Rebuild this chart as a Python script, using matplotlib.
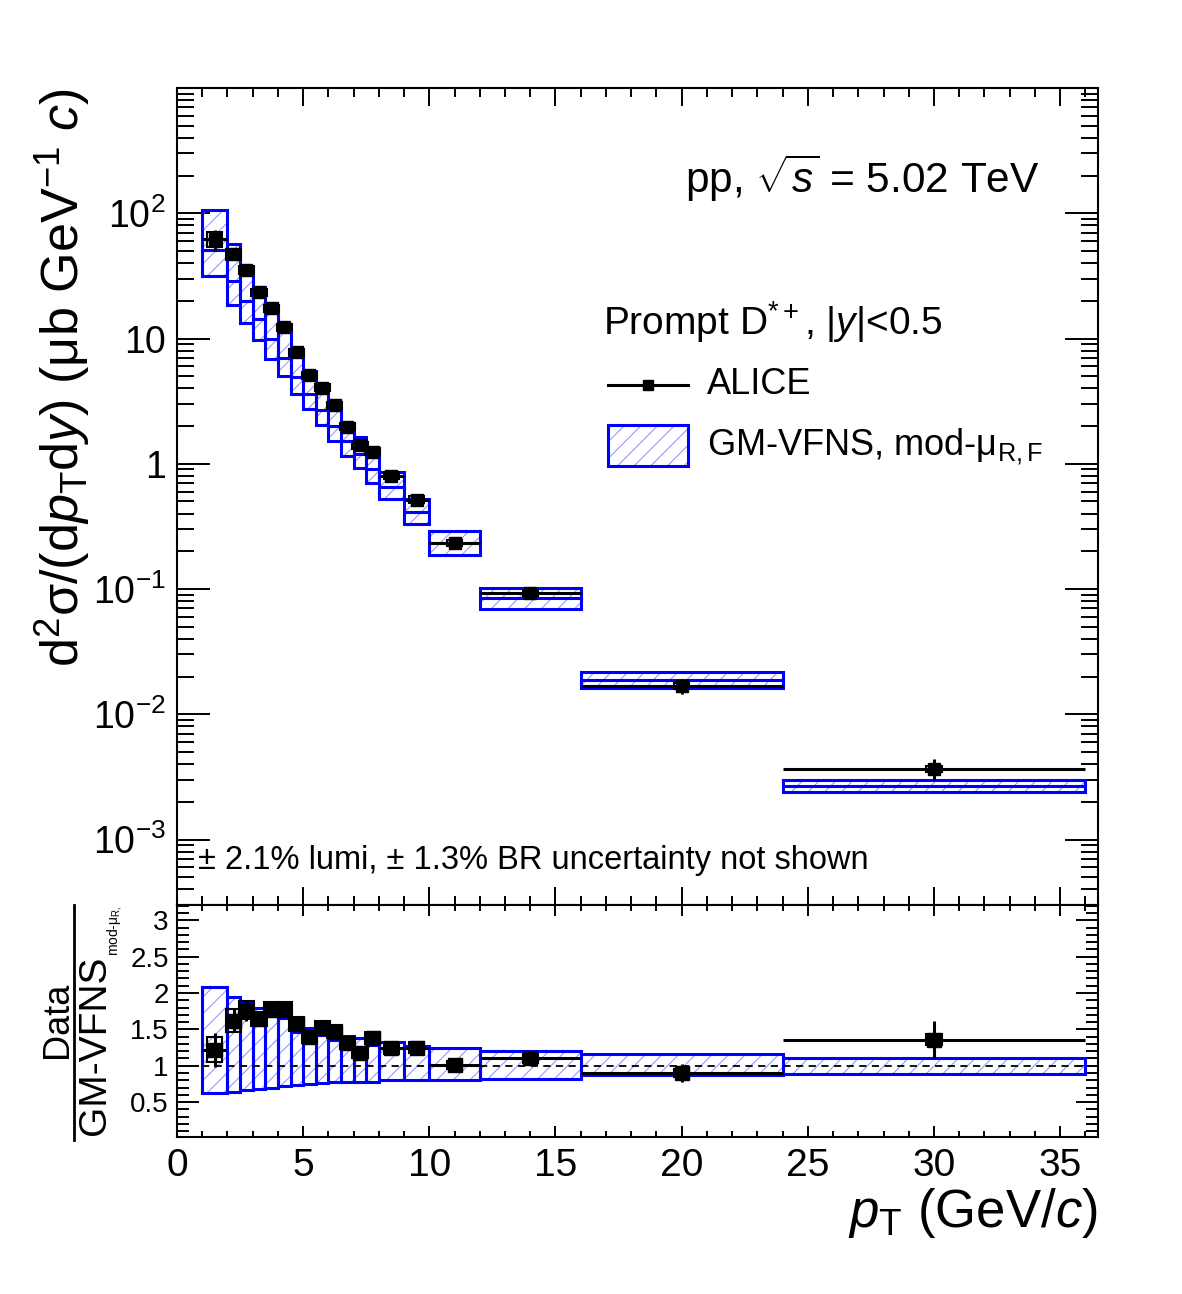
import numpy as np
import matplotlib
matplotlib.use('Agg')
import matplotlib.pyplot as plt
from matplotlib.patches import Rectangle
from matplotlib.lines import Line2D
from matplotlib.ticker import FixedLocator, FixedFormatter, LogLocator, MultipleLocator, NullFormatter, FormatStrFormatter

plt.rcParams['font.family'] = ['Liberation Sans', 'DejaVu Sans']
plt.rcParams['mathtext.fontset'] = 'custom'
plt.rcParams['mathtext.rm'] = 'Liberation Sans'
plt.rcParams['mathtext.it'] = 'Liberation Sans:italic'
plt.rcParams['mathtext.bf'] = 'Liberation Sans:bold'
plt.rcParams['hatch.linewidth'] = 0.8

# ---------------------------------------------------------------
# data
# ---------------------------------------------------------------
bin_lo = [1, 2, 2.5, 3, 3.5, 4, 4.5, 5, 5.5, 6, 6.5, 7, 7.5, 8, 9, 10, 12, 16, 24]
bin_hi = [2, 2.5, 3, 3.5, 4, 4.5, 5, 5.5, 6, 6.5, 7, 7.5, 8, 9, 10, 12, 16, 24, 36]

# ALICE prompt D*+ cross section (ub GeV^-1 c)
sigma = [62, 47, 35.2, 23.4, 17.4, 12.3, 7.74, 5.07, 4.06, 2.92, 1.98, 1.40, 1.25,
         0.805, 0.518, 0.234, 0.093, 0.0169, 0.00366]
stat_rel = [0.19, 0.10, 0.08, 0.05, 0.05, 0.05, 0.05, 0.05, 0.05, 0.05, 0.05, 0.05, 0.05,
            0.04, 0.04, 0.04, 0.05, 0.14, 0.19]
syst_rel = [0.14, 0.10, 0.07, 0.06, 0.06, 0.06, 0.06, 0.06, 0.06, 0.06, 0.06, 0.06, 0.06,
            0.06, 0.06, 0.06, 0.06, 0.06, 0.06]

# Data / GM-VFNS (central) and GM-VFNS band edges relative to its central value
ratio = [1.22, 1.62, 1.76, 1.64, 1.77, 1.77, 1.57, 1.40, 1.52, 1.47, 1.31, 1.18, 1.38,
         1.24, 1.25, 1.01, 1.10, 0.90, 1.36]
theo_lo = [0.62, 0.635, 0.667, 0.68, 0.70, 0.72, 0.735, 0.75, 0.76, 0.77, 0.77, 0.78, 0.78,
           0.80, 0.80, 0.81, 0.82, 0.87, 0.89]
theo_hi = [2.085, 1.947, 1.86, 1.79, 1.72, 1.65, 1.47, 1.52, 1.42, 1.36, 1.41, 1.38, 1.28,
           1.32, 1.27, 1.25, 1.20, 1.16, 1.11]

lo = np.array(bin_lo)
hi = np.array(bin_hi)
pt = (lo + hi) / 2
hw = (hi - lo) / 2
y = np.array(sigma)
r = np.array(ratio)
tlo = np.array(theo_lo)
thi = np.array(theo_hi)
central = y / r

W, H = 1182, 1294
def fx(x):
    return x / W
def fy(yy):
    return 1 - yy / H

BLUE = '#0000ff'
HATCH = '#9a9aff'

fig = plt.figure(figsize=(W / 100, H / 100), dpi=100)
ax = fig.add_axes([fx(177), fy(905), (1098 - 177) / W, (905 - 88) / H])
axr = fig.add_axes([fx(177), fy(1137), (1098 - 177) / W, (1137 - 905) / H])


def draw_band(a, x0, x1, ylo, yhi, ymid=None):
    a.add_patch(Rectangle((x0, ylo), x1 - x0, yhi - ylo, fill=False, hatch='//',
                          edgecolor=HATCH, lw=0, zorder=2))
    a.add_patch(Rectangle((x0, ylo), x1 - x0, yhi - ylo, fill=False,
                          edgecolor=BLUE, lw=2.2, zorder=3))
    if ymid is not None:
        a.plot([x0, x1], [ymid, ymid], color=BLUE, lw=2.2, zorder=3)


def draw_data(a, xs, ys, ms):
    for i in range(len(xs)):
        a.add_patch(Rectangle((xs[i] - 0.3, ys[i] * (1 - syst_rel[i])), 0.6,
                              2 * ys[i] * syst_rel[i], fill=False, edgecolor='k',
                              lw=1.5, zorder=4))
    a.errorbar(xs, ys, xerr=hw, yerr=ys * np.array(stat_rel), fmt='s', color='k',
               ms=ms, elinewidth=2.2, capsize=0, zorder=5)


# ---------------------------------------------------------------
# top panel: cross section
# ---------------------------------------------------------------
for i in range(len(pt)):
    draw_band(ax, lo[i], hi[i], central[i] * tlo[i], central[i] * thi[i], central[i])
draw_data(ax, pt, y, 9)

ax.set_yscale('log')
ax.set_xlim(0, 36.5)
ax.set_ylim(3.0e-4, 1.0e3)
ax.yaxis.set_major_locator(FixedLocator([1e-3, 1e-2, 1e-1, 1, 10, 100]))
ax.yaxis.set_major_formatter(FixedFormatter([r'$10^{-3}$', r'$10^{-2}$', r'$10^{-1}$',
                                             '1', '10', r'$10^{2}$']))
ax.yaxis.set_minor_locator(LogLocator(base=10, subs=np.arange(2, 10), numticks=20))
ax.yaxis.set_minor_formatter(NullFormatter())
ax.xaxis.set_major_locator(MultipleLocator(5))
ax.xaxis.set_minor_locator(MultipleLocator(1))
ax.tick_params(which='both', direction='in', top=True, right=True, width=1.4)
ax.tick_params(axis='y', which='major', length=24, labelsize=27, pad=8)
ax.tick_params(axis='y', which='minor', length=12)
ax.tick_params(axis='x', which='major', length=13, labelbottom=False)
ax.tick_params(axis='x', which='minor', length=6.5)
for s in ax.spines.values():
    s.set_linewidth(1.5)

# ---------------------------------------------------------------
# bottom panel: ratio
# ---------------------------------------------------------------
for i in range(len(pt)):
    draw_band(axr, lo[i], hi[i], tlo[i], thi[i])
axr.plot([1, 36], [1, 1], color='k', lw=1.3, ls=(0, (4, 3)), zorder=4)
draw_data(axr, pt, r, 10)

axr.set_xlim(0, 36.5)
axr.set_ylim(0.02, 3.21)
axr.xaxis.set_major_locator(MultipleLocator(5))
axr.xaxis.set_minor_locator(MultipleLocator(1))
axr.yaxis.set_major_locator(MultipleLocator(0.5))
axr.yaxis.set_minor_locator(MultipleLocator(0.1))
axr.yaxis.set_major_formatter(FormatStrFormatter('%g'))
axr.tick_params(which='both', direction='in', top=True, right=True, width=1.4)
axr.tick_params(axis='x', which='major', length=8, labelsize=28, pad=8)
axr.tick_params(axis='x', which='minor', length=4)
axr.tick_params(axis='y', which='major', length=16, labelsize=20, pad=6)
axr.tick_params(axis='y', which='minor', length=8.6)
for s in axr.spines.values():
    s.set_linewidth(1.5)

# ---------------------------------------------------------------
# titles, legend, annotations
# ---------------------------------------------------------------
fig.text(fx(62), fy(88), r'd$^{2}$σ/(d$p_{\mathrm{T}}$d$y$) (μb GeV$^{-1}$ $c$)',
         rotation=90, ha='center', va='top', fontsize=37.5)
fig.text(fx(1098), fy(1213), r'$p_{\mathrm{T}}$ (GeV/$c$)', ha='right', va='center',
         fontsize=38)

fig.text(fx(57), fy(1020), 'Data', rotation=90, ha='center', va='center', fontsize=26)
fig.add_artist(Line2D([fx(74), fx(74)], [fy(905), fy(1140)], color='k', lw=2))
fig.text(fx(95), fy(1045), 'GM-VFNS', rotation=90, ha='center', va='center', fontsize=28)
fig.text(fx(114), fy(905), r'mod-μ$_{\mathrm{R,}}$', rotation=90, ha='center', va='top',
         fontsize=10)

fig.text(fx(685), fy(178), r'pp, $\sqrt{s}$ = 5.02 TeV', ha='left', va='center', fontsize=30.5)
fig.text(fx(198), fy(860), '± 2.1% lumi, ± 1.3% BR uncertainty not shown', ha='left',
         va='center', fontsize=23.5)

fig.text(fx(603), fy(322), r'Prompt D$^{*+}$, |$y$|<0.5', ha='left', va='center', fontsize=28)
fig.add_artist(Line2D([fx(608), fx(688)], [fy(385), fy(385)], color='k', lw=2.2))
fig.add_artist(Line2D([fx(648)], [fy(385)], color='k', marker='s', ms=7, lw=0))
fig.text(fx(707), fy(385), 'ALICE', ha='left', va='center', fontsize=26)
fig.add_artist(Rectangle((fx(608), fy(466)), 80 / W, 41 / H, fill=False, hatch='//',
                         edgecolor=HATCH, lw=0, transform=fig.transFigure))
fig.add_artist(Rectangle((fx(608), fy(466)), 80 / W, 41 / H, fill=False,
                         edgecolor=BLUE, lw=2.2, transform=fig.transFigure))
fig.text(fx(707), fy(447), r'GM-VFNS, mod-μ$_{\mathrm{R,F}}$', ha='left', va='center',
         fontsize=26)

plt.savefig('out.png', dpi=100)
